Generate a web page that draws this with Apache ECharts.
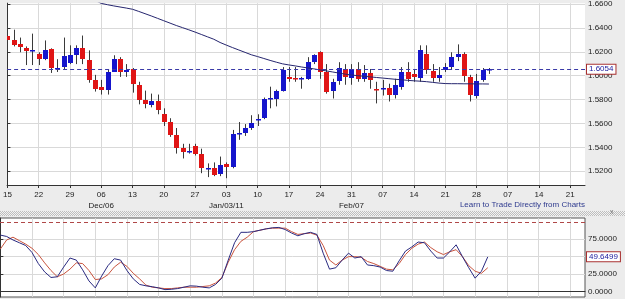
<!DOCTYPE html>
<html><head><meta charset="utf-8">
<script src="https://cdn.jsdelivr.net/npm/echarts@6/dist/echarts.min.js"></script>
<style>html,body{margin:0;padding:0;background:#ececec;}#c{width:625px;height:299px;}</style>
</head><body><div id="c"></div>
<script>
// Daily candles (business-day index 0 = Mon Nov 15 2010)
const opens  = [1.6336,1.6295,1.6262,1.6229,1.6204,1.6179,1.6138,1.6220,1.6064,1.6072,
                1.6105,1.6171,1.6229,1.6130,1.5965,1.5908,1.5883,1.6031,1.6138,1.6031,
                1.6056,1.5924,1.5793,1.5751,1.5784,1.5677,1.5612,1.5505,1.5398,1.5365,
                1.5414,1.5348,1.5221,1.5225,1.5175,1.5258,1.5233,1.5513,1.5521,1.5562,
                1.5632,1.5644,1.5809,1.5809,1.5875,1.5990,1.5982,1.5970,1.5974,1.6113,
                1.6196,1.6031,1.5875,1.5957,1.6056,1.5982,1.6056,1.5974,1.6023,1.5891,
                1.5887,1.5900,1.5842,1.5908,1.6031,1.6015,1.5982,1.6179,1.6039,1.5982,
                1.6048,1.6072,1.6155,1.6179,1.5990,1.5834,1.5965,1.6048];
const closes = [1.6295,1.6254,1.6237,1.6204,1.6212,1.6138,1.6212,1.6064,1.6068,1.6163,
                1.6171,1.6229,1.6138,1.5965,1.5891,1.5883,1.6031,1.6138,1.6031,1.6048,
                1.5933,1.5793,1.5760,1.5784,1.5710,1.5612,1.5505,1.5398,1.5365,1.5373,
                1.5348,1.5225,1.5229,1.5167,1.5249,1.5233,1.5513,1.5521,1.5562,1.5603,
                1.5640,1.5801,1.5817,1.5875,1.6048,1.5974,1.5970,1.5978,1.6113,1.6171,
                1.6031,1.5867,1.5949,1.6064,1.5990,1.6056,1.5974,1.6023,1.5965,1.5883,
                1.5895,1.5842,1.5924,1.6031,1.5974,1.5990,1.6212,1.6048,1.5982,1.6007,
                1.6072,1.6155,1.6179,1.5998,1.5842,1.5957,1.6048,1.6054];
const lows   = [1.6196,1.6245,1.6196,1.6089,1.6089,1.6089,1.6130,1.6023,1.6031,1.6056,
                1.6097,1.6097,1.6097,1.5941,1.5867,1.5842,1.5842,1.6031,1.5990,1.5990,
                1.5858,1.5760,1.5727,1.5735,1.5677,1.5579,1.5488,1.5348,1.5307,1.5348,
                1.5332,1.5184,1.5151,1.5159,1.5159,1.5142,1.5225,1.5463,1.5496,1.5546,
                1.5579,1.5636,1.5727,1.5743,1.5867,1.5949,1.5949,1.5891,1.5965,1.6097,
                1.5974,1.5850,1.5809,1.5924,1.5924,1.5924,1.5949,1.5949,1.5891,1.5768,
                1.5834,1.5784,1.5809,1.5883,1.5949,1.5949,1.5949,1.6015,1.5949,1.5949,
                1.6031,1.6048,1.6122,1.5949,1.5784,1.5809,1.5949,1.6015];
const highs  = [1.6426,1.6385,1.6319,1.6245,1.6352,1.6196,1.6295,1.6229,1.6138,1.6319,
                1.6254,1.6254,1.6336,1.6212,1.6007,1.5965,1.6056,1.6171,1.6155,1.6097,
                1.6064,1.5949,1.5875,1.5850,1.5842,1.5727,1.5644,1.5562,1.5430,1.5430,
                1.5430,1.5389,1.5266,1.5274,1.5323,1.5274,1.5546,1.5612,1.5595,1.5669,
                1.5677,1.5817,1.5908,1.5883,1.6072,1.6072,1.6072,1.5990,1.6155,1.6179,
                1.6204,1.6097,1.5974,1.6113,1.6097,1.6097,1.6113,1.6089,1.6056,1.5949,
                1.5965,1.5933,1.5974,1.6072,1.6113,1.6048,1.6254,1.6254,1.6097,1.6072,
                1.6105,1.6196,1.6262,1.6196,1.6007,1.6015,1.6064,1.6064];

// Moving average, starting at index maStart
const maStart = 12;
const maValues = [1.6700,1.6675,1.6630,1.6605,1.6594,1.6584,1.6575,1.6566,1.6556,1.6538,
                  1.6519,1.6500,1.6480,1.6460,1.6440,1.6420,1.6402,1.6384,1.6365,1.6345,
                  1.6325,1.6305,1.6278,1.6256,1.6235,1.6215,1.6195,1.6175,1.6160,1.6144,
                  1.6128,1.6113,1.6099,1.6090,1.6082,1.6073,1.6065,1.6057,1.6048,1.6040,
                  1.6031,1.6022,1.6013,1.6006,1.6000,1.5995,1.5990,1.5985,1.5980,1.5975,
                  1.5970,1.5966,1.5961,1.5957,1.5954,1.5950,1.5944,1.5938,1.5934,1.5933,
                  1.5933,1.5932,1.5932,1.5931,1.5931,1.5930];

// Stochastic oscillator
const stochK = [81,79,74,70,66,56,40,28,20,21,
                35,48,45,31,15,5,22,37,47,45,
                30,18,10,8,6.7,5,2.5,3,4,6,
                8,7.5,6,5,10,19,45,70,85,85,
                86,88,90,91.5,92,89,84,80,83,85,
                82,55,32,34,45,55,48,50,38,37,
                35,30,29,44,58,64,71,70,58,48,
                48,57,67,50,34,19,29,49.6499];
const stochD = [61,74,78,73,68,62,53,41,30,21,
                25,32,41,40,30,17,18,24,35,42,
                36,26,18,9,6,5,4,4,5,6,
                6,6,7,8,12,20,42,60,72,78,
                86,88,90,91,91,91,86,82,83,84,
                81,66,45,38,45,50,50,49,43,40,
                36,32,31,40,53,62,68,71,63,57,
                53,57,60,50,37,29,26,34];
const stochUpper = 100;

// Axis ticks / labels
const tickLabels  = ['15','22','29','06','13','20','27','03','10','17','24','31','07','14','21','28','07','14','21'];
const monthLabels = ['','','','Dec/06','','','','Jan/03/11','','','','Feb/07','','','','','','',''];
const priceTicks  = [1.52,1.54,1.56,1.58,1.60,1.62,1.64,1.66];
const stochTicks  = [0,25,50,75];
const stochLabelTicks = [0,25,75];
const footerText = 'Learn to Trade Directly from Charts';

const FONT = "'Liberation Sans', Arial, sans-serif";
const UP = '#1515cc', DOWN = '#e01515', WICK = '#3a3a3a';
const tickIdx = tickLabels.map((_, k) => k * 5);
const xMin = -0.055, xMax = 92.36;

const candleData = opens.map((o, i) => [i, o, closes[i], lows[i], highs[i]]);
const maData = maValues.map((v, k) => [maStart + k, v]);
const kData = stochK.map((v, i) => [i, v]);
const dData = stochD.map((v, i) => [i, v]);

function renderCandle(params, api) {
  const i = api.value(0), o = api.value(1), c = api.value(2), l = api.value(3), h = api.value(4);
  const pO = api.coord([i, o]), pC = api.coord([i, c]), pL = api.coord([i, l]), pH = api.coord([i, h]);
  const xr = Math.round(pO[0]);
  const top = Math.round(Math.min(pO[1], pC[1]));
  const bot = Math.round(Math.max(pO[1], pC[1]));
  return {
    type: 'group',
    children: [
      {type: 'line', shape: {x1: xr + 0.5, y1: pH[1], x2: xr + 0.5, y2: pL[1]}, style: {stroke: WICK, lineWidth: 1}},
      {type: 'rect', shape: {x: xr - 2, y: top, width: 5, height: Math.max(bot - top, 1.5)}, style: {fill: c >= o ? UP : DOWN}}
    ]
  };
}

// hatch pattern for separator
const pc = document.createElement('canvas'); pc.width = 2; pc.height = 2;
const g = pc.getContext('2d');
g.fillStyle = '#f2f2f2'; g.fillRect(0, 0, 2, 2);
g.fillStyle = '#bdbdbd'; g.fillRect(0, 0, 1, 1); g.fillRect(1, 1, 1, 1);

const boxLabel = {
  show: true, position: 'end', distance: 2,
  color: '#2020a0', fontSize: 8, fontFamily: FONT,
  backgroundColor: '#ffffff', borderColor: '#a83030', borderWidth: 1,
  padding: [1, 2, 0, 2]
};

const chart = echarts.init(document.getElementById('c'));
chart.setOption({
  animation: false,
  backgroundColor: '#ececec',
  grid: [
    {left: 0, top: 0, width: 585, height: 185, show: true, backgroundColor: '#ffffff', borderWidth: 0},
    {left: 0, top: 218, width: 585, height: 79, show: true, backgroundColor: '#ffffff', borderColor: '#555', borderWidth: 1}
  ],
  xAxis: [
    {
      type: 'value', gridIndex: 0, min: xMin, max: xMax,
      axisLine: {show: true, lineStyle: {color: '#333', width: 1}},
      axisTick: {show: true, length: 3, lineStyle: {color: '#333'}, customValues: tickIdx},
      axisLabel: {
        show: true, customValues: tickIdx, margin: 4, color: '#222', fontSize: 8, lineHeight: 11, fontFamily: FONT,
        formatter: v => { const k = Math.round(v / 5); return tickLabels[k] + (monthLabels[k] ? '\n' + monthLabels[k] : ''); }
      },
      splitLine: {show: true, lineStyle: {color: '#d9d9d9', width: 1}}
    },
    {
      type: 'value', gridIndex: 1, min: xMin, max: xMax,
      axisLine: {show: true, lineStyle: {color: '#333', width: 1}},
      axisTick: {show: false, customValues: tickIdx},
      axisLabel: {show: false},
      splitLine: {show: true, lineStyle: {color: '#d9d9d9', width: 1}}
    }
  ],
  yAxis: [
    {
      type: 'value', gridIndex: 0, position: 'right', min: 1.5085, max: 1.6607, scale: true,
      axisLine: {show: true, lineStyle: {color: '#333', width: 1}},
      axisTick: {show: true, length: 3, lineStyle: {color: '#333'}, customValues: priceTicks},
      axisLabel: {show: true, customValues: priceTicks, margin: 3, color: '#222', fontSize: 8, fontFamily: FONT,
                  formatter: v => v.toFixed(4)},
      splitLine: {show: true, lineStyle: {color: '#d9d9d9', width: 1}}
    },
    {
      type: 'value', gridIndex: 1, position: 'right', min: -8.1, max: 105.6,
      axisLine: {show: true, lineStyle: {color: '#333', width: 1}},
      axisTick: {show: true, length: 3, lineStyle: {color: '#333'}, customValues: stochTicks},
      axisLabel: {show: true, customValues: stochLabelTicks, margin: 3, color: '#222', fontSize: 8, fontFamily: FONT,
                  formatter: v => v.toFixed(4)},
      splitLine: {show: true, lineStyle: {color: '#d9d9d9', width: 1}}
    }
  ],
  series: [
    {
      type: 'custom', xAxisIndex: 0, yAxisIndex: 0, z: 3, clip: true,
      renderItem: renderCandle, data: candleData,
      encode: {x: 0, y: [1, 2, 3, 4]}
    },
    {
      type: 'line', xAxisIndex: 0, yAxisIndex: 0, z: 4, data: maData, showSymbol: false, clip: true,
      lineStyle: {color: '#25256e', width: 1},
      markLine: {
        silent: true, symbol: ['none', 'none'], animation: false, precision: 4,
        data: [
          {yAxis: closes[closes.length - 1], lineStyle: {type: [4, 3], color: '#3a3aa8', width: 1},
           label: Object.assign({}, boxLabel, {formatter: p => Number(p.value).toFixed(4)})}
        ]
      }
    },
    {
      type: 'line', xAxisIndex: 1, yAxisIndex: 1, data: dData, showSymbol: false,
      lineStyle: {color: '#c8543e', width: 1},
      markLine: {
        silent: true, symbol: ['none', 'none'], animation: false, precision: 4,
        data: [{yAxis: stochUpper, lineStyle: {type: [4, 3], color: '#b04848', width: 1}, label: {show: false}}]
      }
    },
    {
      type: 'line', xAxisIndex: 1, yAxisIndex: 1, data: kData, showSymbol: false,
      lineStyle: {color: '#2a2a80', width: 1},
      markLine: {
        silent: true, symbol: ['none', 'none'], animation: false, precision: 4,
        data: [{yAxis: stochK[stochK.length - 1], lineStyle: {color: 'rgba(0,0,0,0)', width: 0},
                label: Object.assign({}, boxLabel, {formatter: p => Number(p.value).toFixed(4)})}]
      }
    }
  ],
  graphic: [
    {type: 'rect', left: 0, top: 211, shape: {width: 625, height: 5}, style: {fill: {image: pc, repeat: 'repeat'}}, silent: true},
    {type: 'text', x: 610, y: 209, style: {text: 'x', fill: '#777', fontSize: 7, fontFamily: FONT}, silent: true},
    {type: 'text', right: 40, top: 201, style: {text: footerText, fill: '#2e3a8e', fontSize: 8, fontFamily: FONT}, silent: true}
  ]
});
</script>
</body></html>
